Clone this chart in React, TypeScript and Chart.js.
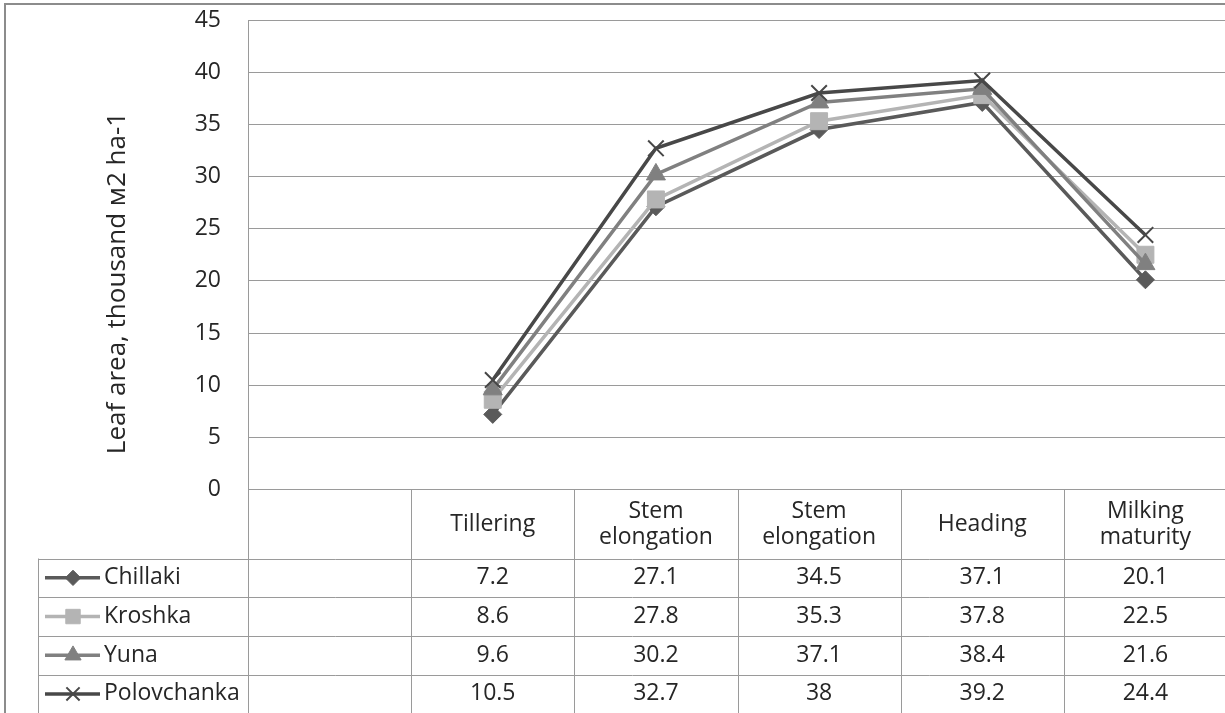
import React, { useEffect, useRef } from 'react';
import { Chart, registerables } from 'chart.js';
import { drawPoint } from 'chart.js/helpers';

Chart.register(...registerables);

// ---------- data ----------
const CATEGORIES = ['', 'Tillering', 'Stem\nelongation', 'Stem\nelongation', 'Heading', 'Milking\nmaturity'];
const SERIES_NAMES = ['Chillaki', 'Kroshka', 'Yuna', 'Polovchanka'];
const CHILLAKI = [null, 7.2, 27.1, 34.5, 37.1, 20.1];
const KROSHKA = [null, 8.6, 27.8, 35.3, 37.8, 22.5];
const YUNA = [null, 9.6, 30.2, 37.1, 38.4, 21.6];
const POLOVCHANKA = [null, 10.5, 32.7, 38, 39.2, 24.4];
const Y_MIN = 0;
const Y_MAX = 45;
const Y_STEP = 5;
const Y_TITLE = 'Leaf area, thousand м2 ha-1';

// ---------- styles ----------
const FONT = '"Open Sans", "Liberation Sans", sans-serif';
const TEXT_COLOR = '#262626';
const GRID_COLOR = '#9a9a9a';
const SERIES_COLORS = ['#5a5a5a', '#b4b4b4', '#808080', '#484848'];
const SERIES_POINT_STYLES = ['rectRot', 'rect', 'triangle', 'crossRot'];
const SERIES_POINT_RADII = [9, 12, 11, 11];
const SERIES_POINT_BORDER = [1, 1, 1, 2];

const CW = 1240;
const CH = 730;
const PLOT_TOP = 20;
const PLOT_BOTTOM = 489.5;
const PLOT_LEFT = 248;
const PLOT_RIGHT = 1228.5;

const SERIES_VALUES = [CHILLAKI, KROSHKA, YUNA, POLOVCHANKA];

const fmt = (v: number | null) => (v === null ? '' : String(v));

const framePlugin = {
  id: 'frame',
  beforeDraw(chart: any) {
    const { ctx } = chart;
    ctx.save();
    ctx.fillStyle = '#ffffff';
    ctx.fillRect(0, 0, chart.width, chart.height);
    ctx.strokeStyle = '#8c8c8c';
    ctx.lineWidth = 2;
    ctx.strokeRect(5, 4, chart.width + 20, chart.height + 20);
    ctx.restore();
  },
};

const titlePlugin = {
  id: 'yTitle',
  afterDraw(chart: any) {
    const { ctx } = chart;
    ctx.save();
    ctx.translate(118, 283);
    ctx.rotate(-Math.PI / 2);
    ctx.fillStyle = TEXT_COLOR;
    ctx.font = `26px ${FONT}`;
    ctx.textAlign = 'center';
    ctx.textBaseline = 'middle';
    ctx.fillText(Y_TITLE, 0, 0);
    ctx.restore();
  },
};

const tablePlugin = {
  id: 'dataTable',
  afterDraw(chart: any) {
    const { ctx, chartArea } = chart;
    const xs = chart.scales.x;
    const n = CATEGORIES.length;
    const left = chartArea.left;
    const right = chartArea.right;
    const colW = (right - left) / n;
    const top = chartArea.bottom;
    const headerH = 69;
    const rowH = 38.7;
    const legendLeft = 38;
    const nRows = chart.data.datasets.length;
    const bottom = top + headerH + nRows * rowH;

    ctx.save();
    ctx.strokeStyle = GRID_COLOR;
    ctx.lineWidth = 1;
    const hline = (y: number, x0: number, x1: number) => {
      const yy = Math.round(y) + 0.5;
      ctx.beginPath();
      ctx.moveTo(x0, yy);
      ctx.lineTo(x1, yy);
      ctx.stroke();
    };
    const vline = (x: number, y0: number, y1: number) => {
      const xx = Math.round(x) + 0.5;
      ctx.beginPath();
      ctx.moveTo(xx, y0);
      ctx.lineTo(xx, y1);
      ctx.stroke();
    };
    for (let r = 0; r <= nRows; r++) hline(top + headerH + r * rowH, legendLeft, right);
    for (let i = 0; i <= n; i++) vline(left + i * colW, top, bottom);
    vline(legendLeft, top + headerH, bottom);

    // header labels
    ctx.fillStyle = TEXT_COLOR;
    ctx.font = `23px ${FONT}`;
    ctx.textAlign = 'center';
    ctx.textBaseline = 'middle';
    const lineH = 26;
    for (let i = 0; i < n; i++) {
      const lines = CATEGORIES[i].split('\n');
      const cx = xs.getPixelForValue(i);
      const cy = top + headerH / 2;
      lines.forEach((ln, k) => {
        ctx.fillText(ln, cx, cy + (k - (lines.length - 1) / 2) * lineH);
      });
    }

    // rows
    chart.data.datasets.forEach((ds: any, r: number) => {
      const cy = top + headerH + r * rowH + rowH / 2;
      ctx.save();
      ctx.strokeStyle = ds.borderColor;
      ctx.lineWidth = 3.5;
      ctx.beginPath();
      ctx.moveTo(45, cy);
      ctx.lineTo(100, cy);
      ctx.stroke();
      ctx.fillStyle = ds.pointBackgroundColor;
      ctx.strokeStyle = ds.pointBorderColor;
      ctx.lineWidth = ds.pointBorderWidth;
      drawPoint(ctx, {
        pointStyle: ds.pointStyle,
        radius: ds.pointRadius * 0.85,
        borderWidth: ds.pointBorderWidth,
        rotation: 0,
      } as any, 73, cy);
      ctx.restore();
      ctx.fillStyle = TEXT_COLOR;
      ctx.font = `23px ${FONT}`;
      ctx.textAlign = 'left';
      ctx.textBaseline = 'middle';
      ctx.fillText(ds.label, 104, cy);
      ctx.textAlign = 'center';
      ds.data.forEach((v: number | null, i: number) => {
        if (v === null) return;
        ctx.fillText(fmt(v), xs.getPixelForValue(i), cy);
      });
    });
    ctx.restore();
  },
};

export default function App() {
  const ref = useRef<HTMLCanvasElement>(null);

  useEffect(() => {
    const canvas = ref.current;
    if (!canvas) return;
    const datasets = SERIES_NAMES.map((name, i) => ({
      label: name,
      data: SERIES_VALUES[i],
      borderColor: SERIES_COLORS[i],
      backgroundColor: SERIES_COLORS[i],
      pointBackgroundColor: SERIES_COLORS[i],
      pointBorderColor: SERIES_COLORS[i],
      pointBorderWidth: SERIES_POINT_BORDER[i],
      pointStyle: SERIES_POINT_STYLES[i],
      pointRadius: SERIES_POINT_RADII[i],
      borderWidth: 3.5,
      tension: 0,
      fill: false,
      order: SERIES_NAMES.length - i,
    }));
    const chart = new Chart(canvas, {
      type: 'line',
      data: { labels: CATEGORIES, datasets: datasets as any },
      plugins: [framePlugin, tablePlugin, titlePlugin],
      options: {
        responsive: false,
        animation: false,
        devicePixelRatio: 1,
        layout: { padding: { left: 0, top: 0, right: CW - PLOT_RIGHT, bottom: CH - PLOT_BOTTOM } },
        plugins: { legend: { display: false }, tooltip: { enabled: false } },
        scales: {
          x: { type: 'category', display: false, offset: true },
          y: {
            min: Y_MIN,
            max: Y_MAX,
            ticks: {
              stepSize: Y_STEP,
              padding: 27,
              color: TEXT_COLOR,
              font: { family: FONT, size: 23 },
            },
            grid: { color: GRID_COLOR, drawTicks: false, lineWidth: 1 },
            border: { color: GRID_COLOR, width: 1 },
            afterFit: (s: any) => {
              s.width = PLOT_LEFT;
              s.paddingTop = PLOT_TOP;
            },
          },
        },
      } as any,
    });
    return () => chart.destroy();
  }, []);

  return (
    <div style={{ position: 'fixed', left: 0, top: 0, width: 1225, height: 713, overflow: 'hidden', background: '#fff' }}>
      <canvas ref={ref} width={CW} height={CH} style={{ display: 'block', width: CW, height: CH }} />
    </div>
  );
}
